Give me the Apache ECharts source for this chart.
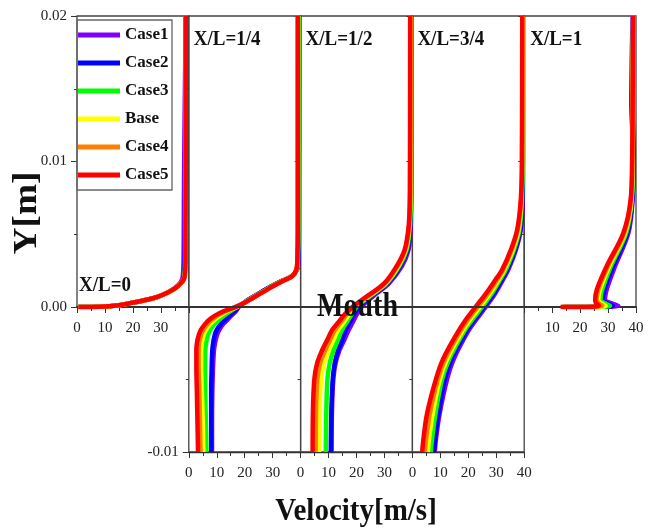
<!DOCTYPE html>
<html>
<head>
<meta charset="utf-8">
<script src="https://cdn.jsdelivr.net/npm/echarts@6/dist/echarts.min.js"></script>
<style>
  html, body { margin: 0; padding: 0; background: #fff; }
  #chart { width: 655px; height: 532px; }
</style>
</head>
<body>
<div id="chart"></div>
<script>
// ---- data: velocity profiles (m/s) at five stations along the channel ----
const CASES = ['Case1', 'Case2', 'Case3', 'Base', 'Case4', 'Case5'];
const STATIONS = ['X/L=0', 'X/L=1/4', 'X/L=1/2', 'X/L=3/4', 'X/L=1'];

// X/L = 0  (heights in m, velocities per case in CASES order)
const Y_XL0 = [0, 0.00002, 0.0001, 0.0003, 0.0005, 0.0007, 0.001, 0.0013, 0.0016, 0.0019, 0.0022, 0.003, 0.005, 0.009, 0.02];
const V_XL0 = [
  [0.5, 8, 14.3, 20, 25, 28.8, 32.4, 35.0, 36.7, 37.6, 37.9, 38.1, 38.2, 38.3, 38.9],
  [0.5, 8, 14.3, 20, 25, 28.8, 32.5, 35.1, 36.9, 38.0, 38.4, 38.6, 38.7, 38.8, 38.9],
  [0.5, 8, 14.3, 20, 25, 28.8, 32.5, 35.1, 36.9, 38.1, 38.5, 38.7, 38.8, 38.9, 38.9],
  [0.5, 8, 14.3, 20, 25, 28.8, 32.5, 35.2, 37.0, 38.2, 38.6, 38.8, 38.8, 38.9, 38.9],
  [0.5, 8, 14.3, 20, 25, 28.8, 32.5, 35.2, 37.0, 38.2, 38.6, 38.8, 38.8, 38.9, 38.9],
  [0.5, 8, 14.3, 20, 25, 28.8, 32.5, 35.2, 37.0, 38.2, 38.6, 38.8, 38.8, 38.9, 38.9]
];

// X/L = 1/4
const Y_XL14 = [-0.01, -0.008, -0.006, -0.004, -0.003, -0.0025, -0.002, -0.0016, -0.0012, -0.0009, -0.0006, -0.0003, 0, 0.0003, 0.0006, 0.001, 0.0014, 0.0018, 0.0021, 0.0025, 0.003, 0.006, 0.02];
const V_XL14 = [
  [8.3, 8.3, 8.4, 8.7, 9.0, 9.4, 10.0, 10.9, 12.3, 13.9, 15.3, 16.9, 18.0, 20.0, 22.3, 25.8, 29.5, 33.5, 36.8, 38.6, 39.2, 39.4, 39.5],
  [8.0, 8.0, 8.0, 8.2, 8.4, 8.7, 9.2, 10.0, 11.4, 13.0, 14.6, 16.4, 17.8, 19.9, 22.4, 25.9, 29.6, 33.6, 36.9, 38.6, 39.1, 39.3, 39.4],
  [6.3, 6.1, 5.9, 5.8, 5.9, 6.2, 6.8, 7.7, 9.2, 10.8, 12.7, 15.0, 17.5, 20.0, 22.6, 26.2, 29.8, 33.8, 36.9, 38.5, 39.0, 39.2, 39.3],
  [5.2, 5.0, 4.7, 4.4, 4.4, 4.6, 5.2, 6.1, 7.6, 9.2, 11.3, 14.0, 17.3, 20.2, 22.8, 26.4, 30.0, 33.9, 37.0, 38.5, 38.9, 39.1, 39.1],
  [4.2, 4.0, 3.8, 3.5, 3.5, 3.7, 4.3, 5.2, 6.7, 8.2, 10.4, 13.3, 17.1, 20.3, 22.9, 26.5, 30.1, 34.0, 37.0, 38.4, 38.8, 39.0, 39.0],
  [3.3, 3.1, 2.9, 2.7, 2.7, 2.9, 3.5, 4.3, 5.8, 7.3, 9.5, 12.6, 17.0, 20.3, 22.9, 26.5, 30.1, 34.0, 37.0, 38.4, 38.8, 39.0, 39.0]
];

// X/L = 1/2
const Y_XL12 = [-0.01, -0.0073, -0.005, -0.0039, -0.003, -0.0023, -0.0016, -0.0011, -0.0005, 0, 0.0007, 0.0016, 0.0028, 0.0039, 0.0051, 0.0062, 0.008, 0.02];
const V_XL12 = [
  [11.1, 11.2, 11.7, 12.5, 13.9, 15.6, 17.2, 18.6, 20.2, 21.8, 25.8, 31.6, 36.3, 38.6, 39.3, 39.5, 39.6, 39.6],
  [10.8, 11.0, 11.5, 12.2, 13.4, 14.9, 16.1, 17.5, 19.2, 20.9, 25.2, 31.1, 35.7, 38.2, 39.1, 39.4, 39.5, 39.5],
  [9.0, 9.2, 9.6, 10.4, 11.8, 13.3, 14.8, 16.4, 18.4, 20.1, 24.7, 30.7, 35.3, 37.9, 38.9, 39.3, 39.4, 39.4],
  [6.7, 6.8, 7.3, 8.3, 10.0, 11.7, 13.4, 15.3, 17.5, 19.4, 24.3, 30.5, 35.0, 37.6, 38.7, 39.1, 39.3, 39.3],
  [5.4, 5.5, 6.0, 7.0, 8.8, 10.5, 12.3, 14.3, 16.6, 18.9, 24.0, 30.2, 34.7, 37.4, 38.6, 39.0, 39.2, 39.3],
  [4.3, 4.4, 4.9, 5.9, 7.7, 9.5, 11.3, 13.4, 15.9, 18.6, 23.6, 29.9, 34.4, 37.2, 38.4, 38.9, 39.1, 39.2]
];

// X/L = 3/4
const Y_XL34 = [-0.01, -0.009, -0.0073, -0.005, -0.0036, -0.0018, -0.0009, 0, 0.0009, 0.0019, 0.0025, 0.0039, 0.0053, 0.0074, 0.01, 0.02];
const V_XL34 = [
  [8.0, 8.5, 9.8, 12.4, 14.8, 19.6, 22.8, 26.3, 29.6, 32.5, 34.2, 37.0, 38.8, 39.5, 39.6, 39.6],
  [7.7, 8.2, 9.4, 11.6, 14.0, 19.0, 22.2, 25.8, 29.1, 32.1, 33.8, 36.7, 38.6, 39.4, 39.5, 39.5],
  [6.6, 7.1, 8.3, 10.6, 13.2, 18.2, 21.4, 25.0, 28.4, 31.5, 33.3, 36.3, 38.3, 39.2, 39.4, 39.4],
  [5.5, 6.0, 7.3, 9.8, 12.4, 17.5, 20.6, 24.2, 27.7, 31.0, 32.8, 35.9, 38.0, 39.0, 39.3, 39.4],
  [4.5, 5.0, 6.3, 9.1, 11.7, 16.8, 19.8, 23.4, 27.0, 30.5, 32.4, 35.5, 37.7, 38.9, 39.2, 39.3],
  [3.5, 4.0, 5.3, 8.4, 11.0, 16.1, 19.1, 22.7, 26.3, 29.9, 32.0, 35.2, 37.5, 38.8, 39.2, 39.3]
];

// X/L = 1
const Y_XL1 = [0, 0.00002, 0.00008, 0.00015, 0.0003, 0.0005, 0.0012, 0.0028, 0.0051, 0.0074, 0.01, 0.014, 0.02];
const V_XL1 = [
  [14.5, 31.5, 33.7, 32.8, 30.5, 28.9, 29.5, 32.5, 37.3, 38.8, 39.2, 38.3, 38.8],
  [14.0, 30.0, 31.8, 31.0, 29.2, 28.0, 28.7, 31.8, 36.9, 38.7, 39.1, 38.8, 39.0],
  [13.8, 29.0, 30.7, 30.0, 28.4, 27.3, 27.9, 31.0, 36.5, 38.5, 38.9, 38.8, 39.0],
  [13.5, 27.5, 29.2, 28.6, 27.2, 26.5, 27.1, 30.4, 36.1, 38.4, 38.8, 38.8, 39.0],
  [13.2, 26.0, 28.0, 27.5, 26.4, 25.9, 26.5, 29.9, 35.8, 38.2, 38.7, 38.8, 39.0],
  [13.0, 24.5, 26.8, 26.5, 25.6, 25.4, 26.0, 29.5, 35.5, 38.1, 38.6, 38.8, 39.0]
];

const PROFILES = [
  { y: Y_XL0, v: V_XL0 },
  { y: Y_XL14, v: V_XL14 },
  { y: Y_XL12, v: V_XL12 },
  { y: Y_XL34, v: V_XL34 },
  { y: Y_XL1, v: V_XL1 }
];

// ---- styling & layout ----
const COLORS = ['#8000ff', '#0000ff', '#00ff00', '#ffff00', '#ff8000', '#ff0000'];
const FONT = '"Liberation Serif", "Times New Roman", serif';
const INK = '#222';
const LEFT = 77, PW = 111.8, TOP = 16, H_UPPER = 291, H_FULL = 436;
const X_HIDDEN = [[40], [40], [40], [], [0]];

const grids = [], xAxes = [], yAxes = [], series = [];

PROFILES.forEach((p, i) => {
  const full = i >= 1 && i <= 3;
  grids.push({
    left: LEFT + i * PW, top: TOP, width: PW, height: full ? H_FULL : H_UPPER,
    show: true, borderColor: '#444', borderWidth: 1.3, backgroundColor: 'transparent'
  });
  xAxes.push({
    gridIndex: i, type: 'value', min: 0, max: 40, interval: 10, position: 'bottom',
    axisLine: { show: true, onZero: false, lineStyle: { color: '#333', width: full ? 1.3 : 2 } },
    axisTick: { show: true, length: 6, lineStyle: { color: '#333', width: 1 } },
    minorTick: { show: true, splitNumber: 2, length: 4, lineStyle: { color: '#333', width: 1 } },
    axisLabel: {
      margin: 14, color: INK, fontFamily: FONT, fontSize: 15,
      formatter: v => (X_HIDDEN[i].indexOf(v) >= 0 ? '' : String(v))
    },
    splitLine: { show: false }, minorSplitLine: { show: false }
  });
  yAxes.push({
    gridIndex: i, type: 'value', min: full ? -0.01 : 0, max: 0.02, interval: 0.01,
    axisLine: { show: false },
    axisTick: { show: true, length: 6, lineStyle: { color: '#333', width: 1 } },
    minorTick: { show: true, splitNumber: 2, length: 3, lineStyle: { color: '#333', width: 1 } },
    axisLabel: {
      show: i <= 1, margin: 10, color: INK, fontFamily: FONT, fontSize: 15,
      formatter: v => {
        if (i === 0) return v.toFixed(2);
        return Math.abs(v + 0.01) < 1e-9 ? '-0.01' : '';
      }
    },
    splitLine: { show: false }, minorSplitLine: { show: false }
  });
  CASES.forEach((name, k) => {
    const s = {
      type: 'line', name, xAxisIndex: i, yAxisIndex: i,
      data: p.y.map((y, j) => [p.v[k][j], y]),
      showSymbol: false, symbol: 'none',
      smooth: 0.35,
      color: COLORS[k],
      lineStyle: { color: COLORS[k], width: 4.5 },
      itemStyle: { color: COLORS[k] },
      emphasis: { disabled: true }
    };
    if (full && k === CASES.length - 1) {
      s.markLine = {
        silent: true, symbol: ['none', 'none'], label: { show: false },
        lineStyle: { color: '#333', width: 2, type: 'solid' },
        data: [{ yAxis: 0 }]
      };
    }
    series.push(s);
  });
});

const textEl = (text, x, y, size, opts) => Object.assign({
  type: 'text', x, y, z: 100,
  style: {
    text, fill: '#111', font: 'bold ' + size + 'px ' + FONT,
    textAlign: 'left', textVerticalAlign: 'middle'
  }
}, opts || {});

const centered = (text, size) => ({
  text, fill: '#111', font: 'bold ' + size + 'px ' + FONT,
  textAlign: 'center', textVerticalAlign: 'middle'
});

const graphics = [
  { type: 'rect', z: 50, shape: { x: 77, y: 20, width: 95, height: 170 },
    style: { fill: 'none', stroke: '#666', lineWidth: 1.3 } },
  textEl(STATIONS[0], LEFT + 2, 285.5, 19, { scaleY: 1.15 }),
  textEl(STATIONS[1], LEFT + PW + 5, 39, 19, { scaleY: 1.15 }),
  textEl(STATIONS[2], LEFT + 2 * PW + 5, 39, 19, { scaleY: 1.15 }),
  textEl(STATIONS[3], LEFT + 3 * PW + 5, 39, 19, { scaleY: 1.15 }),
  textEl(STATIONS[4], LEFT + 4 * PW + 6, 39, 19, { scaleY: 1.15 }),
  textEl('Mouth', 357.5, 307, 28, { scaleY: 1.22, style: centered('Mouth', 28) }),
  textEl('Velocity[m/s]', 356, 512, 29, { scaleY: 1.12, style: centered('Velocity[m/s]', 29) }),
  textEl('Y[m]', 27, 213, 34, { rotation: Math.PI / 2, scaleX: 1.1, style: centered('Y[m]', 34) })
];

const chart = echarts.init(document.getElementById('chart'), null, { renderer: 'canvas' });
chart.setOption({
  animation: false,
  backgroundColor: '#fff',
  grid: grids,
  xAxis: xAxes,
  yAxis: yAxes,
  legend: {
    data: CASES, orient: 'vertical', left: 78, top: 25, padding: 0,
    itemWidth: 42, itemHeight: 5, itemGap: 8, itemTextGap: 5, icon: 'rect',
    selectedMode: false,
    textStyle: { fontFamily: FONT, fontSize: 17, fontWeight: 'bold', color: '#111', lineHeight: 20 }
  },
  tooltip: { show: false },
  series,
  graphic: graphics
});
</script>
</body>
</html>
